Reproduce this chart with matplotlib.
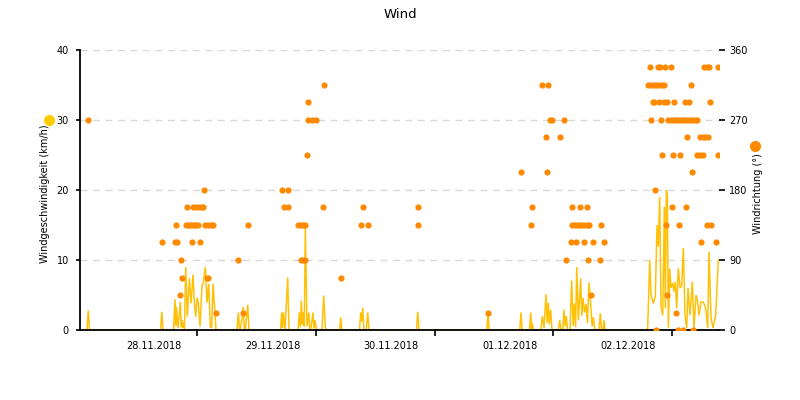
import matplotlib
matplotlib.use('Agg')
import matplotlib.pyplot as plt
from matplotlib.lines import Line2D

plt.rcParams['font.family'] = 'DejaVu Sans'

# Windgeschwindigkeit: Stunden seit 28.11.2018 00:00, km/h
speed_hours = [
    0.3, 1.68, 1.94, 2.2,
    16.55, 16.82, 17.06,
    19.18, 19.49, 19.62, 19.75, 20.1, 20.56, 20.76, 20.96, 21.06, 21.17, 21.4, 21.65,
    21.98, 22.38, 22.73, 23.13, 23.39, 23.68, 23.94, 24.20, 24.55, 24.95, 25.21, 25.62,
    25.96, 26.31, 26.63, 26.9, 27.18, 27.52, 27.78,
    32.03, 32.30, 32.55, 32.74, 33.19, 33.31, 33.5, 33.73, 34.20, 34.46,
    40.84, 41.08, 41.24, 41.40, 41.75, 42.29, 42.56,
    44.38, 44.64, 44.85, 45.05, 45.25, 45.45, 45.65, 45.86, 46.20, 46.54, 46.75, 47.01,
    47.41, 47.6, 47.82, 48.12,
    49.23, 49.58, 49.94,
    52.82, 53.02, 53.22,
    56.82, 57.07, 57.27, 57.47, 57.73, 58.2, 58.48, 58.75,
    68.36, 68.60, 68.86,
    82.58, 82.83, 83.07,
    89.26, 89.50, 89.75,
    91.22, 91.47, 91.63, 91.79, 92.03,
    93.55, 93.81, 94.16, 94.56, 94.8, 95.03, 95.25, 95.51, 95.78,
    97.09, 97.33, 97.60, 97.96, 98.20, 98.45, 98.66, 98.91,
    99.43, 99.76, 100.05, 100.29, 100.55, 100.78, 101.10, 101.58, 101.8, 102.05, 102.35,
    102.65, 102.95, 103.26, 103.61, 103.9, 104.13, 104.48,
    105.29, 105.55, 105.80, 106.10, 106.30, 106.51,
    114.80, 115.14, 115.55, 115.81, 116.28, 116.68, 117.03, 117.29, 117.57, 117.84, 118.18,
    118.51, 118.71, 118.91, 119.11, 119.32, 119.60, 119.87, 120.20, 120.47, 120.73, 121.01,
    121.34, 121.68, 122.02, 122.35, 122.69, 123.03, 123.30, 123.70, 124.17, 124.51, 124.92,
    125.18, 125.52, 125.93, 126.39, 126.88, 127.29, 127.55, 127.96, 128.36, 128.90, 129.43,
]
speed_kmh = [
    0, 0, 2.8, 0,
    0, 2.6, 0,
    0, 4.4, 0.6, 3.3, 0.3, 4.0, 0.4, 1.4, 0.3, 1.0, 0.2, 9.0,
    1.9, 7.4, 3.8, 7.9, 3.9, 1.9, 4.6, 3.9, 0.5, 6.4, 6.7, 9.0,
    3.9, 6.6, 0.5, 0.3, 6.6, 3.0, 0,
    0, 2.5, 0, 0.4, 2.2, 3.2, 0.3, 0.2, 3.6, 0,
    0, 2.5, 0.3, 2.5, 0, 7.5, 0,
    0, 2.5, 0.4, 4.2, 0.8, 2.5, 0.5, 14.8, 0.5, 2.5, 0.2, 0.3,
    2.5, 0.2, 1.4, 0,
    0, 4.9, 0,
    0, 1.8, 0,
    0, 2.5, 1.2, 3.2, 0, 0, 2.5, 0,
    0, 2.6, 0,
    0, 2.6, 0,
    0, 2.5, 0,
    0, 2.5, 0.2, 1.0, 0,
    0, 2.0, 0.3, 5.1, 1.0, 3.9, 0.8, 2.9, 0,
    0, 1.4, 0, 0, 2.9, 0.5, 2.0, 0,
    0, 7.1, 0.6, 3.8, 0.4, 9.0, 1.4, 7.4, 2.0, 4.6, 2.5,
    3.7, 1.0, 6.8, 3.6, 0.5, 1.8, 0,
    0, 2.4, 0, 0, 1.4, 0,
    0, 0.3, 10.0, 5.0, 3.8, 4.8, 15.0, 11.9, 19.0, 3.3, 2.1,
    17.6, 3.1, 20.0, 19.3, 0.3, 8.8, 6.0, 6.7, 5.5, 6.9, 3.1,
    8.8, 6.0, 6.4, 11.7, 2.1, 0.3, 6.0, 2.1, 6.9, 0.3, 5.0,
    4.3, 2.1, 4.0, 4.0, 3.1, 0.3, 11.2, 1.7, 0.3, 2.1, 10.0,
]

# Windrichtung: Stunden seit 28.11.2018 00:00, Grad
dir_hours = [
    1.94,
    16.80, 19.49, 19.83, 19.63, 20.50, 20.64, 20.97, 21.65, 21.98, 22.12, 22.52, 22.93,
    22.99, 23.19, 23.33, 23.74, 23.74, 24.14, 24.34, 24.55, 24.89, 25.21, 25.42, 25.56,
    25.90, 26.23, 26.23, 26.77, 27.24, 27.72,
    32.30, 33.31, 34.16,
    41.08, 41.61, 42.29, 42.29,
    44.44, 44.93, 44.93, 45.39, 45.39, 45.86, 45.86, 46.20, 46.34, 46.46, 47.21, 47.96,
    49.44, 49.70, 53.02, 57.13, 57.53, 58.48, 68.60, 68.72, 82.83,
    89.50, 91.51, 91.79, 93.81, 94.50, 94.71, 94.97, 95.38, 95.72, 97.33, 98.20, 98.67,
    99.61, 99.76, 99.89, 100.43, 100.63, 100.98, 101.44, 101.51, 101.91, 102.19, 102.45,
    102.80, 103.00, 103.12, 103.33, 103.67, 104.14, 105.49, 105.69, 106.30,
    115.61, 117.29, 117.53, 118.64, 119.87, 126.60, 127.05, 127.55, 129.31,
    115.27, 115.81, 116.36, 116.88, 117.43, 117.98, 118.50, 123.84,
    116.15, 116.36, 117.43, 118.44, 119.11, 120.53, 122.69, 123.56, 127.81,
    115.81, 117.84, 119.31, 119.85, 120.40, 120.93, 121.48, 122.02, 122.55, 123.10, 123.64,
    124.17, 124.72, 125.06,
    123.16, 125.73, 126.27, 126.80, 127.41,
    118.10, 120.32, 121.68, 125.08, 125.73, 126.27, 129.31,
    124.17, 116.62, 120.00, 122.83,
    118.79, 121.48, 127.08, 127.95,
    125.93, 128.90, 118.99, 120.81,
    116.83, 121.21, 122.35, 124.37,
]
dir_deg = [
    270,
    112.5, 112.5, 112.5, 135, 45, 90, 67.5, 135, 157.5, 135, 135, 135,
    112.5, 157.5, 135, 135, 157.5, 135, 157.5, 112.5, 157.5, 157.5, 180, 135,
    67.5, 67.5, 135, 135, 135, 22.5,
    90, 22.5, 135,
    180, 157.5, 180, 157.5,
    135, 135, 90, 135, 90, 135, 90, 225, 292.5, 270, 270, 270,
    157.5, 315, 67.5, 135, 157.5, 135, 157.5, 135, 22.5,
    202.5, 135, 157.5, 315, 247.5, 202.5, 315, 270, 270, 247.5, 270, 90,
    112.5, 157.5, 135, 135, 112.5, 135, 135, 157.5, 135, 112.5, 135,
    157.5, 135, 90, 135, 45, 112.5, 90, 135, 112.5,
    337.5, 337.5, 337.5, 337.5, 337.5, 337.5, 337.5, 337.5, 337.5,
    315, 315, 315, 315, 315, 315, 315, 315,
    292.5, 292.5, 292.5, 292.5, 292.5, 292.5, 292.5, 292.5, 292.5,
    270, 270, 270, 270, 270, 270, 270, 270, 270, 270, 270,
    270, 270, 270,
    247.5, 247.5, 247.5, 247.5, 247.5,
    225, 225, 225, 225, 225, 225, 225,
    202.5, 180, 157.5, 157.5,
    135, 135, 135, 135,
    112.5, 112.5, 45, 22.5,
    0, 0, 0, 0,
]

day_ticks = [24, 48, 72, 96, 120]
day_label_pos = [15.2, 39.2, 63.2, 87.2, 111.2]
day_labels = ['28.11.2018', '29.11.2018', '30.11.2018', '01.12.2018', '02.12.2018']

fig = plt.figure(figsize=(8, 4), dpi=100)
ax = fig.add_axes([0.1, 0.175, 0.79875, 0.7])
ax2 = ax.twinx()

ax.plot(speed_hours, speed_kmh, color='#FFC107', linewidth=1.1, solid_joinstyle='miter')
ax2.scatter(dir_hours, dir_deg, s=20, color='#FF8A00', zorder=3, linewidths=0)

ax.set_xlim(0.26, 129.57)
ax.set_ylim(0, 40)
ax2.set_ylim(0, 360)
ax.set_yticks([0, 10, 20, 30, 40])
ax2.set_yticks([0, 90, 180, 270, 360])

ax.grid(axis='y', color='#d9d9d9', linestyle=(0, (5, 4)), linewidth=1)
ax.set_axisbelow(True)

for a in (ax, ax2):
    a.spines['top'].set_visible(False)
    a.spines['right'].set_visible(False)
ax2.spines['left'].set_visible(False)
ax2.spines['bottom'].set_visible(False)
ax.spines['left'].set_linewidth(1.3)
ax.spines['bottom'].set_linewidth(1.3)

ax.tick_params(axis='y', length=3, width=1.2, labelsize=7, pad=5)
ax2.tick_params(axis='y', length=4.5, width=1.2, labelsize=7, pad=3)

ax.set_xticks(day_ticks)
ax.set_xticklabels([''] * len(day_ticks))
ax.set_xticks(day_label_pos, minor=True)
ax.set_xticklabels(day_labels, minor=True)
ax.tick_params(axis='x', which='major', length=4, width=1.2)
ax.tick_params(axis='x', which='minor', length=0, labelsize=7, pad=8)

ax.set_ylabel('Windgeschwindigkeit (km/h)', fontsize=7)
ax.yaxis.set_label_coords(-0.047, 0.486)
ax2.set_ylabel('Windrichtung (°)', fontsize=7, rotation=90)
ax2.yaxis.set_label_coords(1.053, 0.4875)

fig.add_artist(Line2D([49 / 800], [1 - 120 / 400], marker='o', markersize=7,
                      color='#FFCC00', linestyle='none', transform=fig.transFigure))
fig.add_artist(Line2D([755 / 800], [1 - 146 / 400], marker='o', markersize=7,
                      color='#FF8A00', linestyle='none', transform=fig.transFigure))

fig.text(0.5, 1 - 15 / 400, 'Wind', ha='center', va='center', fontsize=9.5)

fig.savefig('out.png', dpi=100)
